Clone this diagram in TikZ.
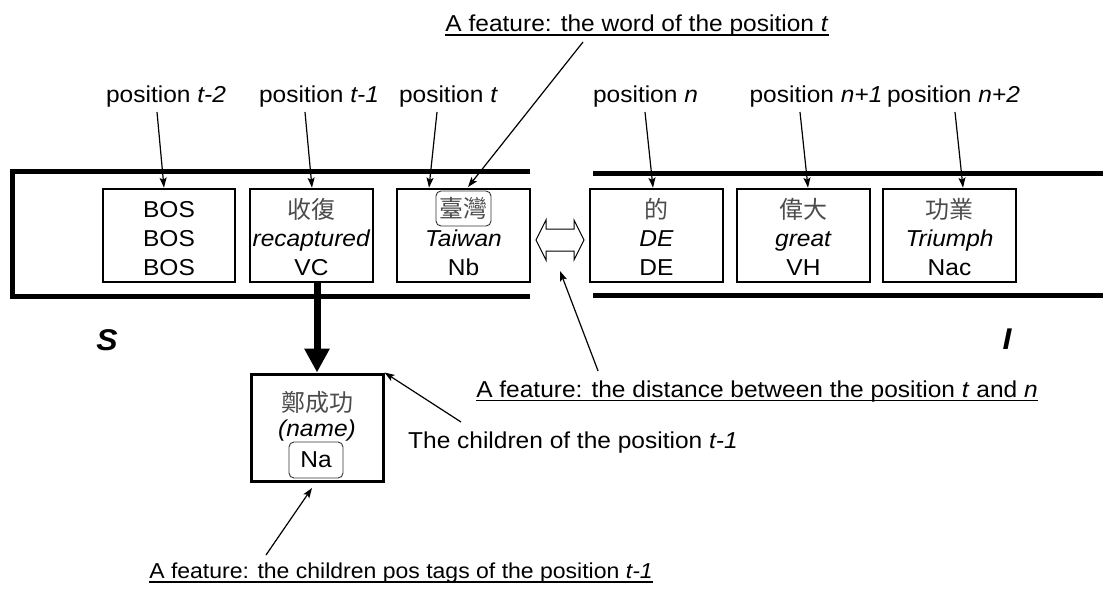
\documentclass[tikz,border=0pt]{standalone}
\usepackage{fontspec}
\setmainfont{Liberation Sans}[FakeStretch=1.065]
\newfontfamily\cjk{Noto Sans CJK TC}
\usetikzlibrary{arrows.meta,calc}

\begin{document}
\begin{tikzpicture}[x=1pt,y=-1pt,
  txt/.style={inner sep=0pt, font=\fontsize{23}{29}\selectfont, anchor=base},
  hz/.style={inner sep=0pt, font=\cjk\fontsize{24}{29}\selectfont, text=black!70, anchor=base},
  band/.style={line width=5pt, line cap=butt, line join=miter},
  wordbox/.style={draw, line width=2.7pt, minimum width=133pt, minimum height=93pt, inner sep=0pt},
  tagbox/.style={draw=black!80, line width=0.9pt, rounded corners=5pt, inner sep=0pt},
  pointer/.style={line width=1.2pt, -{Stealth[length=10pt,width=7pt,inset=2pt]}},
  uline/.style={line width=1.3pt},
  big/.style={inner sep=0pt, font=\fontsize{30}{36}\selectfont\bfseries\itshape, anchor=base}]
\useasboundingbox (0,0) rectangle (1103,590);

% the two halves of the sentence
\draw[band] (530,171) -- (12,171) -- (12,296) -- (530,296);
\draw[band] (1103,173) -- (593,173);
\draw[band] (593,295) -- (1103,295);

% word boxes
\node[wordbox, minimum width=132pt] (b1) at (169,235.5) {};
\node[wordbox, minimum width=123pt] (b2) at (311.5,235.5) {};
\node[wordbox] (b3) at (463.5,235.5) {};
\node[wordbox] (b4) at (656.5,235.5) {};
\node[wordbox] (b5) at (803.5,235.5) {};
\node[wordbox] (b6) at (949.5,235.5) {};

\node[txt] (b1a) at (169,217) {BOS};
\node[txt] (b1b) at (169,246) {BOS};
\node[txt] (b1c) at (169,275) {BOS};

\node[hz]  (b2a) at (311.5,218) {收復};
\node[txt] (b2b) at (311.5,246) {\textit{recaptured}};
\node[txt] (b2c) at (311.5,275) {VC};

\node[tagbox, minimum width=55pt, minimum height=35pt,
      font=\cjk\fontsize{24}{29}\selectfont, text=black!70] (tw) at (463.5,208.5) {臺灣};
\node[txt] (b3b) at (463.5,246) {\textit{Taiwan}};
\node[txt] (b3c) at (463.5,275) {Nb};

\node[hz]  (b4a) at (656.5,218) {的};
\node[txt] (b4b) at (656.5,246) {\textit{DE}};
\node[txt] (b4c) at (656.5,275) {DE};

\node[hz]  (b5a) at (803.5,218) {偉大};
\node[txt] (b5b) at (803.5,246) {\textit{great}};
\node[txt] (b5c) at (803.5,275) {VH};

\node[hz]  (b6a) at (949.5,218) {功業};
\node[txt] (b6b) at (949.5,246) {\textit{Triumph}};
\node[txt] (b6c) at (949.5,275) {Nac};

% hollow double arrow between the halves
\draw[line width=1pt, line join=miter] (536,240) -- (546,220) -- (546,229) -- (574,229)
  -- (574,220) -- (584,240) -- (574,260) -- (574,251) -- (546,251) -- (546,260) -- cycle;
\coordinate (gap) at (560,260);

% position labels
\node[txt] (p1) at (166,102) {position \textit{t-2}};
\node[txt] (p2) at (319,102) {position \textit{t-1}};
\node[txt] (p3) at (448.5,102) {position \textit{t}};
\node[txt] (p4) at (645.5,102) {position \textit{n}};
\node[txt] (p5) at (816,102) {position \textit{n+1}};
\node[txt] (p6) at (953.5,102) {position \textit{n+2}};

\draw[pointer] ($(p1.base)+(-9,10)$) -- ($(b1.north)+(-5,0)$);
\draw[pointer] ($(p2.base)+(-14,10)$) -- ($(b2.north)+(0.5,0)$);
\draw[pointer] ($(p3.base)+(-11.5,10)$) -- ($(b3.north)+(-34.5,0)$);
\draw[pointer] ($(p4.base)+(-0.5,10)$) -- ($(b4.north)+(-3.5,0)$);
\draw[pointer] ($(p5.base)+(-16,10)$) -- ($(b5.north)+(4.5,0)$);
\draw[pointer] ($(p6.base)+(1.5,10)$) -- ($(b6.north)+(13.5,0)$);

% sentence ends
\node[big] (s) at (107,350) {S};
\node[big] (i) at (1007,349) {I};

% child of position t-1
\node[draw, line width=3pt, minimum width=132pt, minimum height=107pt, inner sep=0pt] (nm) at (317,427.5) {};
\node[hz]  (nm1) at (317,411) {鄭成功};
\node[txt] (nm2) at (317,436) {\textit{(name)}};
\node[tagbox, minimum width=54pt, minimum height=36pt, font=\fontsize{23}{29}\selectfont] (na) at (316,460) {Na};

\draw[line width=7pt, -{Triangle[length=24pt,width=24pt]}] (b2.south -| nm.north) -- (nm.north);

% feature annotations
\node[txt] (fw) at (637,31) {A feature: the word of the position \textit{t}};
\draw[uline] ($(fw.base west)+(0,4)$) -- ($(fw.base east)+(0,4)$);
\draw[pointer] ($(fw.base)+(-54,11)$) -- ($(tw.north)+(4.5,-3.5)$);

\node[txt] (fd) at (757,397) {A feature: the distance between the position \textit{t} and \textit{n}};
\draw[uline] ($(fd.base west)+(0,3.5)$) -- ($(fd.base east)+(0,3.5)$);
\draw[pointer] ($(fd.base west)+(122,-26)$) -- ($(gap)+(0,11)$);

\node[txt, anchor=base west] (ch) at (408,448) {The children of the position \textit{t-1}};
\draw[pointer] ($(ch.base west)+(53,-26)$) -- (nm.north east);

\node[txt, font=\fontsize{21.6}{27}\selectfont] (fc) at (401,578) {A feature: the children pos tags of the position \textit{t-1}};
\draw[uline] ($(fc.base west)+(0,4)$) -- ($(fc.base east)+(0,4)$);
\draw[pointer] ($(fc.base)+(-135,-23)$) -- ($(nm.south)+(-5,5.5)$);
\end{tikzpicture}
\end{document}
